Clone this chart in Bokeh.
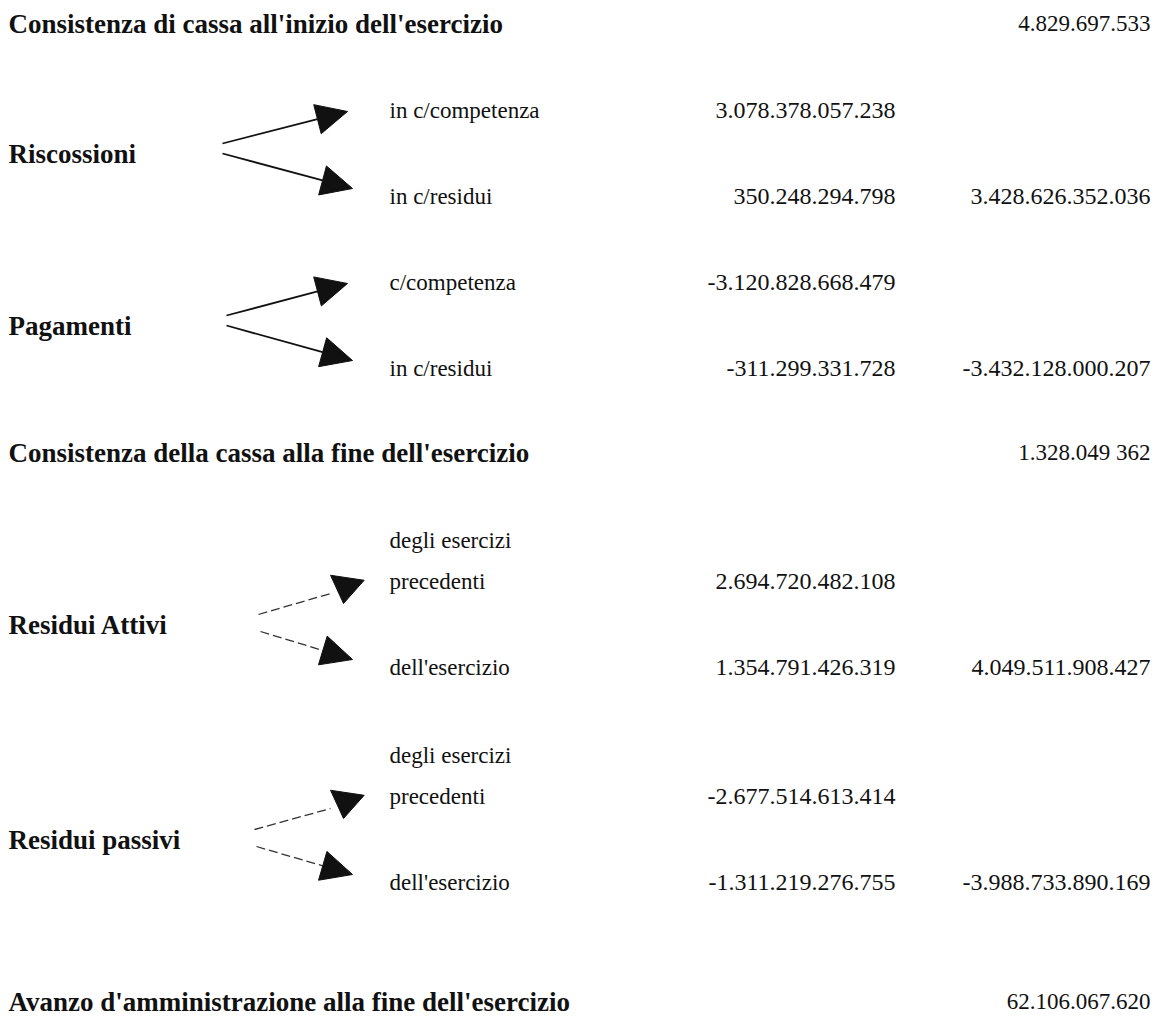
import math
from bokeh.plotting import figure
from bokeh.models import Range1d, ColumnDataSource
from bokeh.core.properties import value
from bokeh.embed import file_html
from bokeh.resources import INLINE

# ---------------- data ----------------
section_titles = [
    "Consistenza di cassa all'inizio dell'esercizio",
    "Consistenza della cassa alla fine dell'esercizio",
    "Avanzo d'amministrazione alla fine dell'esercizio",
]
section_values = ["4.829.697.533", "1.328.049 362", "62.106.067.620"]

group_names = ["Riscossioni", "Pagamenti", "Residui  Attivi", "Residui passivi"]
group_pre_labels = ["", "", "degli esercizi", "degli esercizi"]
group_item1 = ["in c/competenza", "c/competenza", "precedenti", "precedenti"]
group_item2 = ["in c/residui", "in c/residui", "dell'esercizio", "dell'esercizio"]
group_value1 = ["3.078.378.057.238", "-3.120.828.668.479", "2.694.720.482.108", "-2.677.514.613.414"]
group_value2 = ["350.248.294.798", "-311.299.331.728", "1.354.791.426.319", "-1.311.219.276.755"]
group_totals = ["3.428.626.352.036", "-3.432.128.000.207", "4.049.511.908.427", "-3.988.733.890.169"]

# ---------------- layout (page pixel coordinates) ----------------
W, H = 1151, 1015
LEFT_X = 8
SUB_X = 389
MID_RIGHT = 895
RIGHT_X = 1150
title_y = [23, 452, 1001]
group_top = [110, 282, 581, 796]   # y of first item of each group
ROW_GAP = 43
PRE_GAP = 41
tail_x = [222, 226, 258, 254]
dashed = [False, False, True, True]
down_heads = [False, False, True, True]

FONT = value("Liberation Serif")
INK = "#111111"
BOLD_SIZE = "27px"
LABEL_SIZE = "23px"
NUM_SIZE = "24px"

p = figure(width=W, height=H, output_backend="svg", toolbar_location=None,
           x_range=Range1d(0, W), y_range=Range1d(H, 0),
           x_axis_type=None, y_axis_type=None, min_border=0,
           outline_line_color=None, background_fill_color="white",
           border_fill_color="white")
p.grid.visible = False

# ---- bold section titles and their values ----
p.text(x=[LEFT_X] * 3, y=title_y, text=section_titles, text_font=FONT,
       text_font_style="bold", text_font_size=BOLD_SIZE, text_baseline="middle",
       text_align="left", text_color=INK)
p.text(x=[RIGHT_X] * 3, y=title_y, text=section_values, text_font=FONT,
       text_font_size="23px", text_baseline="middle", text_align="right",
       text_color=INK)

# ---- groups ----
lbl_x, lbl_y, lbl_t = [], [], []
sub_x, sub_y, sub_t = [], [], []
mid_y, mid_t = [], []
tot_y, tot_t = [], []
seg_solid = dict(x0=[], y0=[], x1=[], y1=[])
seg_dash = dict(x0=[], y0=[], x1=[], y1=[])
head_xs, head_ys = [], []


def head(tip, direction, length, half):
    dx, dy = direction
    n = math.hypot(dx, dy)
    dx, dy = dx / n, dy / n
    bx, by = tip[0] - length * dx, tip[1] - length * dy
    px, py = -dy, dx
    return ([tip[0], bx + half * px, bx - half * px],
            [tip[1], by + half * py, by - half * py], (bx, by))


for i, name in enumerate(group_names):
    y1 = group_top[i]
    yl = y1 + ROW_GAP
    y2 = y1 + 2 * ROW_GAP
    lbl_x.append(LEFT_X); lbl_y.append(yl); lbl_t.append(name)
    if group_pre_labels[i]:
        sub_x.append(SUB_X); sub_y.append(y1 - PRE_GAP); sub_t.append(group_pre_labels[i])
    sub_x += [SUB_X, SUB_X]; sub_y += [y1, y2]; sub_t += [group_item1[i], group_item2[i]]
    mid_y += [y1, y2]; mid_t += [group_value1[i], group_value2[i]]
    tot_y.append(y2); tot_t.append(group_totals[i])

    # upper arrow
    t_up = (tail_x[i], yl - 10)
    if down_heads[i]:
        hx, hy, base = head((343, y1 + 22), (-0.15, 1.0), 26, 17)
        shaft_end = (330, y1 + 12)
    else:
        tip = (347, y1 + 1)
        hx, hy, base = head(tip, (tip[0] - t_up[0], tip[1] - t_up[1]), 31, 15)
        shaft_end = base
    head_xs.append(hx); head_ys.append(hy)
    # lower arrow
    t_lo = (tail_x[i] + (2 if dashed[i] else 0), yl + (7 if dashed[i] else 0))
    tip2 = (352, y2 - 8)
    hx2, hy2, base2 = head(tip2, (tip2[0] - t_lo[0], tip2[1] - t_lo[1]), 31, 15)
    head_xs.append(hx2); head_ys.append(hy2)
    segs = seg_dash if dashed[i] else seg_solid
    for a, b in ((t_up, shaft_end), (t_lo, base2)):
        segs["x0"].append(a[0]); segs["y0"].append(a[1])
        segs["x1"].append(b[0]); segs["y1"].append(b[1])

p.text(x=lbl_x, y=lbl_y, text=lbl_t, text_font=FONT, text_font_style="bold",
       text_font_size=BOLD_SIZE, text_baseline="middle", text_align="left",
       text_color=INK)
p.text(x=sub_x, y=sub_y, text=sub_t, text_font=FONT, text_font_size=LABEL_SIZE,
       text_baseline="middle", text_align="left", text_color=INK)
p.text(x=[MID_RIGHT] * len(mid_y), y=mid_y, text=mid_t, text_font=FONT,
       text_font_size=NUM_SIZE, text_baseline="middle", text_align="right",
       text_color=INK)
p.text(x=[RIGHT_X] * len(tot_y), y=tot_y, text=tot_t, text_font=FONT,
       text_font_size=NUM_SIZE, text_baseline="middle", text_align="right",
       text_color=INK)

p.segment(source=ColumnDataSource(seg_solid), x0="x0", y0="y0", x1="x1", y1="y1",
          line_color=INK, line_width=1.8)
p.segment(source=ColumnDataSource(seg_dash), x0="x0", y0="y0", x1="x1", y1="y1",
          line_color="#333333", line_width=1.3, line_dash="9 4")
p.patches(xs=head_xs, ys=head_ys, fill_color=INK, line_color=INK, line_width=1)

open("out.html", "w").write(file_html(p, INLINE))
